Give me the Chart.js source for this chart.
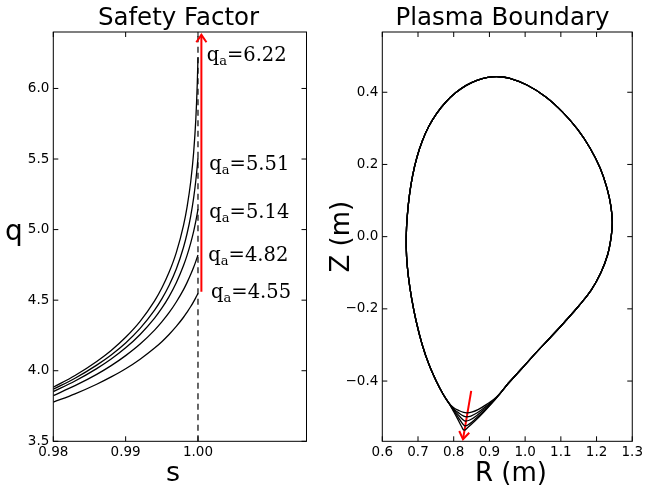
<!DOCTYPE html>
<html><head><meta charset="utf-8">
<script src="https://cdn.jsdelivr.net/npm/chart.js@4/dist/chart.umd.min.js"></script>
<style>
html,body{margin:0;padding:0;background:#fff;}
#wrap{position:relative;width:646px;height:491px;overflow:hidden;}
canvas{position:absolute;left:0;top:0;}
</style></head><body>
<div id="wrap"><canvas id="c1" width="646" height="491"></canvas><canvas id="c2" width="646" height="491"></canvas></div>
<script>
// ---------- Safety factor data ----------
const sGrid = [0.98, 0.983, 0.986, 0.988, 0.99, 0.992, 0.994, 0.995, 0.996, 0.997, 0.998, 0.9985, 0.999, 0.9994, 0.9997, 0.9999, 1.0];
const qEdge = [6.22, 5.51, 5.14, 4.82, 4.55];
const q622 = [3.883, 3.966, 4.066, 4.144, 4.237, 4.350, 4.495, 4.586, 4.697, 4.837, 5.030, 5.163, 5.341, 5.546, 5.781, 6.031, 6.221];
const q551 = [3.869, 3.947, 4.040, 4.112, 4.197, 4.300, 4.429, 4.509, 4.604, 4.721, 4.875, 4.974, 5.098, 5.225, 5.348, 5.450, 5.510];
const q514 = [3.852, 3.927, 4.015, 4.083, 4.162, 4.257, 4.373, 4.443, 4.525, 4.623, 4.745, 4.819, 4.906, 4.988, 5.060, 5.115, 5.145];
const q482 = [3.824, 3.894, 3.974, 4.036, 4.107, 4.189, 4.288, 4.346, 4.411, 4.487, 4.575, 4.626, 4.683, 4.733, 4.775, 4.805, 4.820];
const q455 = [3.777, 3.836, 3.904, 3.956, 4.014, 4.082, 4.161, 4.206, 4.257, 4.314, 4.379, 4.416, 4.455, 4.490, 4.518, 4.538, 4.548];
const sTicks = [0.98, 0.99, 1.00];
const qTicks = [3.5, 4.0, 4.5, 5.0, 5.5, 6.0];
const edgeLineS = [1.0, 1.0];
const edgeLineQ = [3.5, 6.4];
const qArrowS = [1.00047, 1.00047];
const qArrowQ = [4.56, 6.38];
const labelS = [1.00120, 1.00157, 1.00157, 1.00143, 1.00181];
const labelQ = [6.195, 5.420, 5.080, 4.775, 4.517];

// ---------- Plasma boundary data ----------
// shared part: right merge point -> up right side -> top -> down left side -> left merge point
const arcR = [0.953, 0.990, 1.030, 1.070, 1.110, 1.150, 1.185, 1.212, 1.231, 1.241, 1.244, 1.240, 1.229, 1.210, 1.182, 1.147, 1.105, 1.058, 1.005, 0.955, 0.926, 0.895, 0.865, 0.835, 0.806, 0.778, 0.752, 0.730, 0.712, 0.697, 0.685, 0.676, 0.670, 0.667, 0.668, 0.673, 0.682, 0.695, 0.712, 0.731, 0.752, 0.770, 0.787];
const arcZ = [-0.406, -0.366, -0.322, -0.280, -0.237, -0.192, -0.148, -0.100, -0.050, 0.000, 0.040, 0.085, 0.135, 0.190, 0.245, 0.297, 0.345, 0.387, 0.420, 0.439, 0.443, 0.441, 0.433, 0.419, 0.399, 0.373, 0.341, 0.305, 0.265, 0.220, 0.170, 0.115, 0.058, 0.000, -0.055, -0.110, -0.170, -0.235, -0.300, -0.355, -0.402, -0.436, -0.462];
// lower (X-point) part of each boundary: left merge -> bottom -> right merge
const botR622 = [0.787, 0.800, 0.812, 0.822, 0.829, 0.840, 0.860, 0.885, 0.915, 0.953];
const botZ622 = [-0.462, -0.485, -0.507, -0.526, -0.536, -0.528, -0.510, -0.485, -0.452, -0.406];
const botR551 = [0.787, 0.800, 0.813, 0.824, 0.831, 0.842, 0.862, 0.887, 0.917, 0.953];
const botZ551 = [-0.462, -0.482, -0.501, -0.517, -0.524, -0.520, -0.504, -0.481, -0.450, -0.406];
const botR514 = [0.787, 0.800, 0.814, 0.826, 0.833, 0.845, 0.864, 0.888, 0.918, 0.953];
const botZ514 = [-0.462, -0.479, -0.495, -0.507, -0.511, -0.508, -0.496, -0.476, -0.448, -0.406];
const botR482 = [0.787, 0.800, 0.815, 0.828, 0.836, 0.848, 0.866, 0.889, 0.919, 0.953];
const botZ482 = [-0.462, -0.477, -0.489, -0.497, -0.499, -0.497, -0.488, -0.471, -0.446, -0.406];
const botR455 = [0.787, 0.800, 0.815, 0.828, 0.838, 0.850, 0.868, 0.890, 0.920, 0.953];
const botZ455 = [-0.462, -0.474, -0.482, -0.487, -0.488, -0.486, -0.479, -0.466, -0.444, -0.406];
const RTicks = [0.6, 0.7, 0.8, 0.9, 1.0, 1.1, 1.2, 1.3];
const ZTicks = [-0.4, -0.2, 0.0, 0.2, 0.4];
const bArrowR = [0.849, 0.826];
const bArrowZ = [-0.427, -0.561];

// ---------- helpers ----------
const SANS = '"DejaVu Sans", sans-serif';
const SERIF = '"DejaVu Serif", serif';
function pts(xs, ys) { return xs.map((x, i) => ({x: x, y: ys[i]})); }
function setTicks(arr) { return (scale) => { scale.ticks = arr.map(v => ({value: v})); }; }
function fmt(d) { return (v) => Number(v).toFixed(d).replace('-', '\u2212'); }

function decoPlugin(cfg) {
  return {
    id: 'deco_' + cfg.id,
    afterDatasetsDraw(chart) {
      const ctx = chart.ctx, a = chart.chartArea;
      const xs = chart.scales.x, ys = chart.scales.y;
      ctx.save();
      // frame
      ctx.strokeStyle = '#000'; ctx.lineWidth = 1;
      ctx.strokeRect(a.left, a.top, a.right - a.left, a.bottom - a.top);
      // inward ticks on all four sides
      ctx.beginPath();
      const L = 5;
      cfg.xTicks.forEach(v => {
        const p = xs.getPixelForValue(v);
        ctx.moveTo(p, a.bottom); ctx.lineTo(p, a.bottom - L);
        ctx.moveTo(p, a.top); ctx.lineTo(p, a.top + L);
      });
      cfg.yTicks.forEach(v => {
        const p = ys.getPixelForValue(v);
        ctx.moveTo(a.left, p); ctx.lineTo(a.left + L, p);
        ctx.moveTo(a.right, p); ctx.lineTo(a.right - L, p);
      });
      ctx.stroke();
      // arrow head
      const x0 = xs.getPixelForValue(cfg.arrowX[0]), y0 = ys.getPixelForValue(cfg.arrowY[0]);
      const x1 = xs.getPixelForValue(cfg.arrowX[1]), y1 = ys.getPixelForValue(cfg.arrowY[1]);
      const ang = Math.atan2(y1 - y0, x1 - x0), hl = 9, ha = 0.6;
      ctx.strokeStyle = '#ff0000'; ctx.lineWidth = 2;
      ctx.beginPath();
      ctx.moveTo(x1 - hl * Math.cos(ang - ha), y1 - hl * Math.sin(ang - ha));
      ctx.lineTo(x1, y1);
      ctx.lineTo(x1 - hl * Math.cos(ang + ha), y1 - hl * Math.sin(ang + ha));
      ctx.stroke();
      // titles
      ctx.fillStyle = '#000';
      ctx.textBaseline = 'alphabetic';
      ctx.textAlign = 'center';
      ctx.font = '24.5px ' + SANS;
      ctx.fillText(cfg.title, cfg.titleX, 25);
      ctx.font = cfg.xTitleSize + 'px ' + SANS;
      ctx.fillText(cfg.xTitle, cfg.xTitleX, 481);
      if (cfg.yRot) {
        ctx.save();
        ctx.translate(cfg.yTitleX, (a.top + a.bottom) / 2);
        ctx.rotate(-Math.PI / 2);
        ctx.font = cfg.yTitleSize + 'px ' + SANS;
        ctx.fillText(cfg.yTitle, 0, 0);
        ctx.restore();
      } else {
        ctx.font = cfg.yTitleSize + 'px ' + SANS;
        ctx.fillText(cfg.yTitle, cfg.yTitleX, cfg.yTitleY);
      }
      // q_a labels
      if (cfg.labels) {
        ctx.textAlign = 'left';
        cfg.labels.forEach(l => {
          let x = xs.getPixelForValue(l.x), y = ys.getPixelForValue(l.y);
          ctx.font = '19.5px ' + SERIF;
          ctx.fillText('q', x, y); x += ctx.measureText('q').width;
          ctx.font = '13px ' + SERIF;
          ctx.fillText('a', x, y + 4); x += ctx.measureText('a').width;
          ctx.font = '19.5px ' + SERIF;
          ctx.fillText('=' + l.v.toFixed(2), x, y);
        });
      }
      ctx.restore();
    }
  };
}

function lineDs(data, extra) {
  return Object.assign({data: data, showLine: true, borderColor: '#000', borderWidth: 1.3,
    pointRadius: 0, pointHoverRadius: 0, fill: false}, extra || {});
}

function axis(min, max, tickArr, digits, fitKey, fitVal, pad) {
  return {
    type: 'linear', min: min, max: max,
    grid: {display: false, drawTicks: false}, border: {display: false},
    ticks: {color: '#000', font: {family: SANS, size: 13.5}, padding: pad, autoSkip: false,
      maxRotation: 0, minRotation: 0, callback: fmt(digits)},
    afterBuildTicks: setTicks(tickArr),
    afterFit: (s) => { s[fitKey] = fitVal; }
  };
}

const common = {
  responsive: false, animation: false, devicePixelRatio: 1,
  events: [],
  plugins: {legend: {display: false}, tooltip: {enabled: false}, title: {display: false}}
};

// ---------- left chart ----------
const qCurves = [q622, q551, q514, q482, q455];
new Chart(document.getElementById('c1'), {
  type: 'scatter',
  data: {datasets: [
    ...qCurves.map(q => lineDs(pts(sGrid, q), {cubicInterpolationMode: 'monotone'})),
    lineDs(pts(edgeLineS, edgeLineQ), {borderWidth: 1.2, borderDash: [6, 4.5]}),
    lineDs(pts(qArrowS, qArrowQ), {borderColor: '#ff0000', borderWidth: 2})
  ]},
  options: Object.assign({}, common, {
    layout: {padding: {left: 0, right: 339.5, top: 32, bottom: 0}},
    scales: {
      x: axis(0.98, 1.015, sTicks, 2, 'height', 49.7, 3),
      y: axis(3.5, 6.4, qTicks, 1, 'width', 53.3, 4)
    }
  }),
  plugins: [decoPlugin({id: 'q', xTicks: sTicks, yTicks: qTicks, arrowX: qArrowS, arrowY: qArrowQ,
    title: 'Safety Factor', titleX: 178.5, xTitle: 's', xTitleX: 173, xTitleSize: 27, yTitle: 'q', yTitleSize: 28,
    yRot: false, yTitleX: 14, yTitleY: 240,
    labels: qEdge.map((v, i) => ({v: v, x: labelS[i], y: labelQ[i]}))})]
});

// ---------- right chart ----------
const bots = [[botR622, botZ622], [botR551, botZ551], [botR514, botZ514], [botR482, botZ482], [botR455, botZ455]];
new Chart(document.getElementById('c2'), {
  type: 'scatter',
  data: {datasets: [
    ...bots.map(b => lineDs(pts(arcR.concat(b[0].slice(1)), arcZ.concat(b[1].slice(1))), {tension: 0.4})),
    lineDs(pts(bArrowR, bArrowZ), {borderColor: '#ff0000', borderWidth: 2})
  ]},
  options: Object.assign({}, common, {
    layout: {padding: {left: 320, right: 11, top: 32, bottom: 0}},
    scales: {
      x: axis(0.6, 1.3, RTicks, 1, 'height', 49.7, 3),
      y: axis(-0.5669, 0.5669, ZTicks, 1, 'width', 62.3, 4)
    }
  }),
  plugins: [decoPlugin({id: 'b', xTicks: RTicks, yTicks: ZTicks, arrowX: bArrowR, arrowY: bArrowZ,
    title: 'Plasma Boundary', titleX: 502.5, xTitle: 'R (m)', xTitleX: 511, xTitleSize: 26, yTitle: 'Z (m)', yTitleSize: 26,
    yRot: true, yTitleX: 349})]
});
</script>
</body></html>
